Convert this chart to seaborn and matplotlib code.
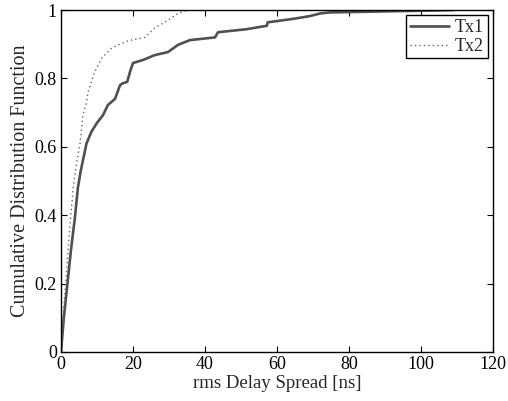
import pandas as pd
import matplotlib
matplotlib.use("Agg")
import matplotlib.pyplot as plt
import seaborn as sns

# Read-off points of the two CDF curves (delay in ns, CDF value)
tx1_delay = [0.0, 0.8, 1.8, 2.8, 3.9, 4.7, 5.5, 7.1, 8.5, 10.0, 11.7, 12.7, 13.0,
             15.0, 16.4, 17.0, 18.4, 19.2, 20.0, 22.8, 26.0, 29.7, 32.5, 35.8,
             42.8, 43.6, 51.6, 57.2, 57.4, 64.4, 69.0, 72.0, 74.7, 80.0, 90.0,
             100.0, 109.0]
tx1_cdf = [0.0, 0.10, 0.20, 0.30, 0.395, 0.48, 0.53, 0.61, 0.645, 0.67, 0.693,
           0.715, 0.722, 0.74, 0.78, 0.785, 0.79, 0.82, 0.845, 0.854, 0.868,
           0.877, 0.898, 0.912, 0.92, 0.935, 0.944, 0.954, 0.964, 0.974, 0.982,
           0.99, 0.993, 0.994, 0.996, 0.998, 1.0]

tx2_delay = [0.0, 0.6, 1.3, 2.0, 2.7, 3.4, 4.3, 5.3, 6.1, 7.1, 7.5, 9.4, 11.4,
             14.2, 18.6, 23.3, 26.0, 29.7, 32.5, 34.5, 36.5]
tx2_cdf = [0.0, 0.10, 0.20, 0.30, 0.395, 0.48, 0.55, 0.61, 0.693, 0.728, 0.76,
           0.82, 0.86, 0.89, 0.91, 0.92, 0.947, 0.97, 0.99, 0.997, 1.0]

df1 = pd.DataFrame({"delay": tx1_delay, "cdf": tx1_cdf})
df2 = pd.DataFrame({"delay": tx2_delay, "cdf": tx2_cdf})

sns.set_style("ticks")
plt.rcParams["font.family"] = ["Liberation Serif", "DejaVu Serif"]

fig = plt.figure(figsize=(5.08, 4.01), dpi=100)
ax = fig.add_axes([0.12, 0.1222, 0.8505, 0.8528])

sns.lineplot(data=df1, x="delay", y="cdf", ax=ax, estimator=None, sort=False,
             color="#505050", linewidth=1.9, label="Tx1")
sns.lineplot(data=df2, x="delay", y="cdf", ax=ax, estimator=None, sort=False,
             color="#666666", linewidth=1.0, linestyle=(0, (1, 2.2)), label="Tx2")

ax.set_xlim(0, 120)
ax.set_ylim(0, 1)
ax.set_xticks([0, 20, 40, 60, 80, 100, 120])
ax.set_yticks([0, 0.2, 0.4, 0.6, 0.8, 1])
ax.set_yticklabels(["0", "0.2", "0.4", "0.6", "0.8", "1"])
ax.tick_params(direction="in", length=4, width=0.8, top=True, right=True,
               labelsize=13, pad=3, colors="black")
for s in ax.spines.values():
    s.set_visible(True)
    s.set_linewidth(1.0)
    s.set_color("black")

ax.set_xlabel("rms Delay Spread [ns]", fontsize=13.5, labelpad=1)
ax.set_ylabel("Cumulative Distribution Function", fontsize=14.5, labelpad=3)

leg = ax.legend(loc="upper right", fontsize=13, frameon=True, fancybox=False,
                edgecolor="black", framealpha=1, borderaxespad=0.3,
                handlelength=2.2, handletextpad=0.3, borderpad=0.2,
                labelspacing=0.1)
leg.get_frame().set_linewidth(1.0)

fig.savefig("out.png", dpi=100)
